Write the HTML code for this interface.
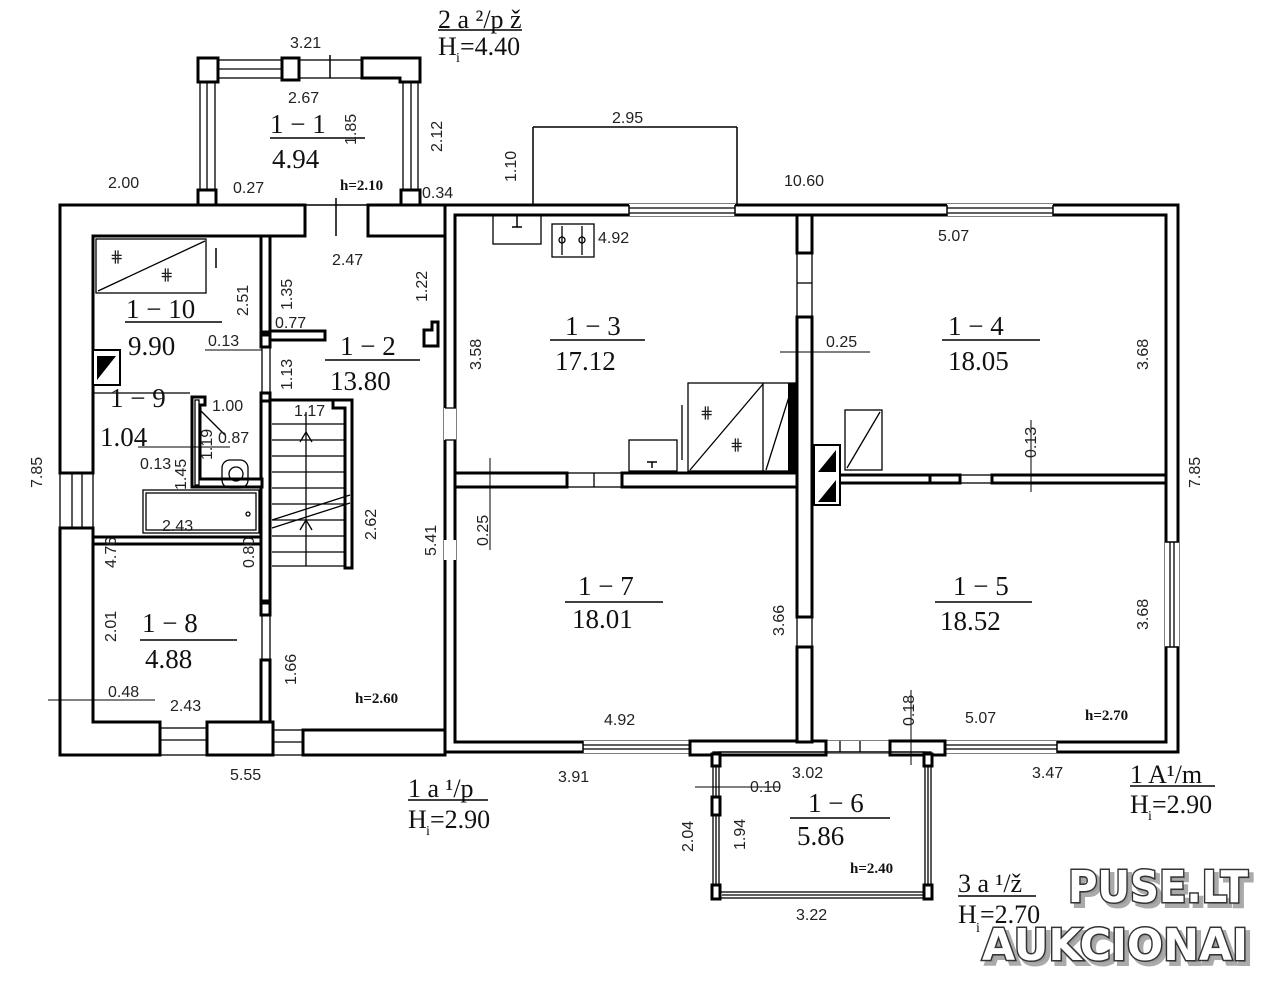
<!DOCTYPE html>
<html><head><meta charset="utf-8"><style>
html,body{margin:0;padding:0;background:#fff;}
svg{display:block}
.d{font-family:"Liberation Sans",sans-serif;font-size:16px;fill:#222}
.r{font-family:"Liberation Serif",serif;font-size:27px;fill:#111}
.h{font-family:"Liberation Serif",serif;font-size:15px;font-weight:bold;fill:#111}
.big{font-family:"Liberation Serif",serif;font-size:26px;fill:#111}
.w{fill:#fff;stroke:#000;stroke-width:3}
.t{stroke:#000;stroke-width:1.3;fill:none}
.ln{stroke:#000;stroke-width:1.5}
.wm{font-family:"DejaVu Sans",sans-serif;font-weight:bold;font-size:44px;fill:#fff;stroke:#333;stroke-width:3;paint-order:stroke}
.sh{font-family:"DejaVu Sans",sans-serif;font-weight:bold;font-size:44px;fill:#999;stroke:#aaa;stroke-width:4}
</style></head><body>
<svg width="1280" height="988" viewBox="0 0 1280 988" xmlns="http://www.w3.org/2000/svg">
<rect width="1280" height="988" fill="#fff"/>

<!-- Top porch -->
<rect class="t" x="200" y="60" width="218" height="145"/>
<rect class="t" x="215" y="78" width="188" height="127"/>
<line class="t" x1="207" y1="80" x2="207" y2="192"/>
<line class="t" x1="411" y1="80" x2="411" y2="192"/>
<line class="t" x1="218" y1="69" x2="282" y2="69"/>
<rect class="w" x="198" y="58" width="20" height="24"/>
<rect class="w" x="282" y="58" width="17" height="22"/>
<path class="w" d="M362 58 H420 V82 H400 V78 H362 Z"/>
<rect class="w" x="198" y="190" width="18" height="16"/>
<rect class="w" x="401" y="190" width="19" height="16"/>
<line class="ln" x1="330" y1="55" x2="330" y2="78"/>

<!-- Left wing -->
<path class="w" d="M60 205 H305 V236 H262 V236 H93 V473 H60 Z"/>
<rect class="w" x="368" y="205" width="77" height="31"/>
<line class="ln" x1="336" y1="198" x2="336" y2="236"/>
<rect class="t" x="60" y="473" width="33" height="55"/>
<line class="t" x1="72" y1="473" x2="72" y2="528"/>
<line class="t" x1="82" y1="473" x2="82" y2="528"/>
<path class="w" d="M60 528 H93 V722 H160 V755 H60 Z"/>
<rect class="w" x="207" y="722" width="66" height="33"/>
<rect class="w" x="303" y="730" width="142" height="25"/>
<rect class="t" x="160" y="728" width="47" height="27"/>
<line class="t" x1="160" y1="740" x2="207" y2="740"/>
<rect class="t" x="273" y="730" width="30" height="25"/>
<line class="t" x1="273" y1="742" x2="303" y2="742"/>
<rect class="w" x="261" y="236" width="9" height="96"/>
<rect class="w" x="261" y="335" width="9" height="12"/>
<rect class="w" x="270" y="331" width="55" height="9"/>
<rect class="w" x="261" y="393" width="9" height="8"/>
<rect class="t" x="262" y="347" width="8" height="46"/>
<rect class="w" x="261" y="401" width="9" height="200"/>
<rect class="w" x="261" y="603" width="9" height="12"/>
<rect class="t" x="262" y="615" width="8" height="55"/>
<rect class="w" x="261" y="660" width="9" height="62"/>
<rect class="w" x="93" y="537" width="168" height="7"/>
<line class="t" x1="93" y1="393" x2="190" y2="393"/>
<path class="w" d="M192 397 H205 V405 H200 V479 H262 V487 H192 Z"/>
<rect class="t" x="195" y="400" width="4" height="85"/>
<line class="t" x1="200" y1="410" x2="225" y2="435"/>
<rect class="t" x="222" y="460" width="26" height="28" rx="8"/>
<circle class="t" cx="236" cy="474" r="7"/>
<rect class="t" x="143" y="490" width="116" height="43"/>
<rect class="t" x="146" y="493" width="110" height="37"/>
<circle class="t" cx="248" cy="514" r="2"/>
<rect class="t" x="96" y="239" width="110" height="54"/>
<line class="t" x1="98" y1="291" x2="205" y2="241"/>
<text x="110" y="262" class="d" font-size="18">⋕</text>
<text x="160" y="280" class="d" font-size="18">⋕</text>
<line class="ln" x1="216" y1="248" x2="216" y2="268"/>
<rect x="93" y="350" width="27" height="35" fill="#fff" stroke="#000" stroke-width="2"/>
<path d="M97 380 L97 356 L116 356 Z" fill="#000"/>
<path class="w" d="M270 400 H352 V568 H345 V408 H333 V400 Z" />
<g class="t">
<line x1="272" y1="424" x2="345" y2="424"/><line x1="272" y1="440" x2="345" y2="440"/>
<line x1="272" y1="456" x2="345" y2="456"/><line x1="272" y1="472" x2="345" y2="472"/>
<line x1="272" y1="488" x2="345" y2="488"/><line x1="272" y1="504" x2="345" y2="504"/>
<line x1="272" y1="520" x2="345" y2="520"/><line x1="272" y1="536" x2="345" y2="536"/>
<line x1="272" y1="552" x2="345" y2="552"/><line x1="272" y1="566" x2="345" y2="566"/>
<line x1="306" y1="412" x2="306" y2="566"/>
<line x1="272" y1="520" x2="350" y2="495"/><line x1="272" y1="528" x2="350" y2="503"/>
<path d="M300 442 L306 432 L312 442"/><path d="M300 530 L306 520 L312 530"/>
</g>
<path class="w" d="M424 330 H432 V322 H438 V346 H424 Z"/>

<!-- Main building -->
<path class="w" fill-rule="evenodd" d="M445 205 H1178 V752 H445 Z M455 215 V742 H1166 V215 Z"/>
<rect fill="#fff" x="629" y="204" width="106" height="12"/><line class="t" x1="629" y1="208" x2="735" y2="208"/><line class="t" x1="629" y1="213" x2="735" y2="213"/>
<rect fill="#fff" x="947" y="204" width="106" height="12"/><line class="t" x1="947" y1="208" x2="1053" y2="208"/><line class="t" x1="947" y1="213" x2="1053" y2="213"/>
<line class="ln" x1="629" y1="205" x2="629" y2="216"/><line class="ln" x1="735" y1="205" x2="735" y2="216"/>
<line class="ln" x1="947" y1="205" x2="947" y2="216"/><line class="ln" x1="1053" y1="205" x2="1053" y2="216"/>
<rect fill="#fff" x="583" y="741" width="107" height="12"/><line class="t" x1="583" y1="745" x2="690" y2="745"/><line class="t" x1="583" y1="749" x2="690" y2="749"/>
<rect fill="#fff" x="945" y="741" width="112" height="12"/><line class="t" x1="945" y1="745" x2="1057" y2="745"/><line class="t" x1="945" y1="749" x2="1057" y2="749"/>
<rect fill="#fff" x="826" y="741" width="64" height="12"/><line class="t" x1="840" y1="741" x2="840" y2="752"/><line class="t" x1="860" y1="741" x2="860" y2="752"/>
<rect class="w" x="690" y="741" width="136" height="14"/>
<rect class="w" x="890" y="741" width="55" height="14"/>
<line class="ln" x1="583" y1="741" x2="583" y2="753"/><line class="ln" x1="1057" y1="741" x2="1057" y2="753"/>
<rect fill="#fff" x="1165" y="542" width="14" height="105"/><line class="t" x1="1170" y1="542" x2="1170" y2="647"/><line class="t" x1="1174" y1="542" x2="1174" y2="647"/>
<line class="ln" x1="1165" y1="542" x2="1179" y2="542"/><line class="ln" x1="1165" y1="647" x2="1179" y2="647"/>
<rect fill="#fff" x="444" y="408" width="12" height="32"/><line class="t" x1="445" y1="408" x2="456" y2="408"/><line class="t" x1="445" y1="440" x2="456" y2="440"/>
<rect fill="#fff" x="444" y="540" width="12" height="20"/>
<rect class="w" x="797" y="215" width="15" height="38"/>
<rect class="t" x="797" y="253" width="15" height="64"/>
<line class="t" x1="797" y1="283" x2="812" y2="283"/>
<rect class="w" x="797" y="317" width="15" height="300"/>
<rect class="t" x="797" y="617" width="15" height="30"/>
<rect class="w" x="797" y="647" width="15" height="95"/>
<rect class="w" x="455" y="473" width="112" height="14"/>
<rect class="t" x="567" y="473" width="55" height="14"/>
<line class="t" x1="594" y1="473" x2="594" y2="487"/>
<rect class="w" x="622" y="473" width="175" height="14"/>
<rect class="w" x="812" y="475" width="118" height="8"/>
<rect class="w" x="930" y="475" width="30" height="8"/>
<rect class="t" x="960" y="475" width="32" height="8"/>
<rect class="w" x="992" y="475" width="174" height="8"/>
<rect x="814" y="445" width="26" height="60" fill="#fff" stroke="#000" stroke-width="2"/>
<path d="M818 472 L836 450 L836 472 Z" fill="#000"/>
<path d="M818 502 L836 480 L836 502 Z" fill="#000"/>
<rect class="t" x="688" y="383" width="107" height="88"/>
<line class="t" x1="763" y1="383" x2="763" y2="471"/>
<line class="t" x1="690" y1="470" x2="763" y2="384"/>
<line class="t" x1="766" y1="470" x2="793" y2="384"/>
<rect x="788" y="383" width="7" height="88" fill="#000"/>
<text x="700" y="418" class="d" font-size="22">⋕</text>
<text x="730" y="450" class="d" font-size="22">⋕</text>
<line class="t" x1="682" y1="405" x2="682" y2="460"/>
<rect class="t" x="629" y="440" width="48" height="31"/>
<line class="ln" x1="652" y1="462" x2="652" y2="468"/><line class="ln" x1="647" y1="462" x2="657" y2="462"/>
<rect class="t" x="845" y="410" width="37" height="60"/>
<line class="t" x1="847" y1="468" x2="880" y2="412"/>
<rect class="t" x="493" y="215" width="48" height="29"/>
<line class="ln" x1="517" y1="215" x2="517" y2="227"/><line class="ln" x1="512" y1="227" x2="522" y2="227"/>
<rect class="t" x="552" y="224" width="42" height="33"/>
<line class="t" x1="562" y1="226" x2="562" y2="255"/><line class="t" x1="582" y1="226" x2="582" y2="255"/>
<circle class="t" cx="562" cy="240" r="3"/><circle class="t" cx="582" cy="240" r="3"/>

<!-- bottom porch -->
<rect class="t" x="713" y="752" width="218" height="146"/>
<rect class="t" x="719" y="752" width="206" height="140"/>
<line class="t" x1="716" y1="760" x2="716" y2="890"/>
<line class="t" x1="928" y1="760" x2="928" y2="890"/>
<line class="t" x1="722" y1="895" x2="925" y2="895"/>
<rect class="w" x="712" y="754" width="8" height="12"/>
<rect class="w" x="924" y="754" width="8" height="12"/>
<rect class="w" x="712" y="797" width="8" height="18"/>
<rect class="w" x="712" y="885" width="8" height="14"/>
<rect class="w" x="924" y="885" width="8" height="14"/>

<g class="ln">
<line x1="533" y1="127" x2="737" y2="127"/>
<line x1="533" y1="127" x2="533" y2="205"/>
<line x1="737" y1="127" x2="737" y2="205"/>
<line x1="200" y1="205" x2="300" y2="205" stroke-width="1"/>
<line x1="205" y1="350" x2="262" y2="350" stroke-width="1"/>
<line x1="138" y1="447" x2="230" y2="447" stroke-width="1"/>
<line x1="48" y1="700" x2="155" y2="700" stroke-width="1"/>
<line x1="780" y1="352" x2="870" y2="352" stroke-width="1"/>
<line x1="490" y1="458" x2="490" y2="550" stroke-width="1"/>
<line x1="1031" y1="420" x2="1031" y2="492" stroke-width="1"/>
<line x1="911" y1="690" x2="911" y2="765" stroke-width="1"/>
<line x1="695" y1="787" x2="780" y2="787" stroke-width="1"/>
</g>

<g class="r">
<text x="270" y="133">1 − 1</text><line class="ln" x1="270" y1="138" x2="365" y2="138"/><text x="272" y="168">4.94</text>
<text x="126" y="318">1 − 10</text><line class="ln" x1="125" y1="322" x2="222" y2="322"/><text x="128" y="355">9.90</text>
<text x="110" y="407">1 − 9</text><text x="100" y="446">1.04</text>
<text x="340" y="355">1 − 2</text><line class="ln" x1="325" y1="360" x2="420" y2="360"/><text x="330" y="390">13.80</text>
<text x="565" y="335">1 − 3</text><line class="ln" x1="550" y1="340" x2="645" y2="340"/><text x="555" y="370">17.12</text>
<text x="948" y="335">1 − 4</text><line class="ln" x1="942" y1="340" x2="1040" y2="340"/><text x="948" y="370">18.05</text>
<text x="142" y="632">1 − 8</text><line class="ln" x1="140" y1="640" x2="237" y2="640"/><text x="145" y="668">4.88</text>
<text x="578" y="595">1 − 7</text><line class="ln" x1="565" y1="602" x2="663" y2="602"/><text x="572" y="628">18.01</text>
<text x="953" y="595">1 − 5</text><line class="ln" x1="935" y1="602" x2="1032" y2="602"/><text x="940" y="630">18.52</text>
<text x="808" y="812">1 − 6</text><line class="ln" x1="790" y1="818" x2="890" y2="818"/><text x="797" y="845">5.86</text>
</g>

<g class="d">
<text x="290" y="48">3.21</text>
<text x="288" y="103">2.67</text>
<text x="108" y="188">2.00</text>
<text x="233" y="193">0.27</text>
<text x="422" y="198">0.34</text>
<text x="612" y="123">2.95</text>
<text x="784" y="186">10.60</text>
<text x="332" y="265">2.47</text>
<text x="598" y="243">4.92</text>
<text x="938" y="241">5.07</text>
<text x="275" y="328">0.77</text>
<text x="208" y="346">0.13</text>
<text x="826" y="347">0.25</text>
<text x="212" y="411">1.00</text>
<text x="294" y="416">1.17</text>
<text x="218" y="443">0.87</text>
<text x="140" y="469">0.13</text>
<text x="162" y="531">2.43</text>
<text x="108" y="697">0.48</text>
<text x="170" y="711">2.43</text>
<text x="604" y="725">4.92</text>
<text x="965" y="723">5.07</text>
<text x="230" y="780">5.55</text>
<text x="558" y="782">3.91</text>
<text x="792" y="778">3.02</text>
<text x="750" y="792">0.10</text>
<text x="1032" y="778">3.47</text>
<text x="796" y="920">3.22</text>
</g>
<g class="d">
<text transform="translate(356,145) rotate(-90)">1.85</text>
<text transform="translate(442,152) rotate(-90)">2.12</text>
<text transform="translate(516,182) rotate(-90)">1.10</text>
<text transform="translate(248,316) rotate(-90)">2.51</text>
<text transform="translate(292,310) rotate(-90)">1.35</text>
<text transform="translate(427,302) rotate(-90)">1.22</text>
<text transform="translate(292,390) rotate(-90)">1.13</text>
<text transform="translate(481,370) rotate(-90)">3.58</text>
<text transform="translate(1148,370) rotate(-90)">3.68</text>
<text transform="translate(1036,458) rotate(-90)">0.13</text>
<text transform="translate(212,460) rotate(-90)">1.19</text>
<text transform="translate(186,490) rotate(-90)">1.45</text>
<text transform="translate(254,568) rotate(-90)">0.80</text>
<text transform="translate(116,568) rotate(-90)">4.76</text>
<text transform="translate(42,488) rotate(-90)">7.85</text>
<text transform="translate(376,540) rotate(-90)">2.62</text>
<text transform="translate(436,556) rotate(-90)">5.41</text>
<text transform="translate(488,546) rotate(-90)">0.25</text>
<text transform="translate(784,636) rotate(-90)">3.66</text>
<text transform="translate(1200,488) rotate(-90)">7.85</text>
<text transform="translate(1148,630) rotate(-90)">3.68</text>
<text transform="translate(116,642) rotate(-90)">2.01</text>
<text transform="translate(296,685) rotate(-90)">1.66</text>
<text transform="translate(914,726) rotate(-90)">0.18</text>
<text transform="translate(693,852) rotate(-90)">2.04</text>
<text transform="translate(745,850) rotate(-90)">1.94</text>
</g>
<g class="h">
<text x="340" y="190">h=2.10</text>
<text x="355" y="703">h=2.60</text>
<text x="1085" y="720">h=2.70</text>
<text x="850" y="873">h=2.40</text>
</g>
<g class="big">
<text x="438" y="28">2 a ²/p ž</text><line class="ln" x1="438" y1="30" x2="522" y2="30"/>
<text x="438" y="55">H</text><text x="456" y="62" font-size="14">i</text><text x="460" y="55">=4.40</text>
<text x="408" y="797">1 a ¹/p</text><line class="ln" x1="408" y1="800" x2="488" y2="800"/>
<text x="408" y="828">H</text><text x="426" y="835" font-size="14">i</text><text x="430" y="828">=2.90</text>
<text x="1130" y="783">1 A¹/m</text><line class="ln" x1="1130" y1="786" x2="1215" y2="786"/>
<text x="1130" y="813">H</text><text x="1148" y="820" font-size="14">i</text><text x="1152" y="813">=2.90</text>
<text x="958" y="892">3 a ¹/ž</text><line class="ln" x1="958" y1="896" x2="1036" y2="896"/>
<text x="958" y="923">H</text><text x="976" y="932" font-size="14">i</text><text x="980" y="923">=2.70</text>
</g>
<text class="sh" x="1072" y="906" textLength="180" lengthAdjust="spacingAndGlyphs">PUSE.LT</text>
<text class="sh" x="986" y="964" textLength="266" lengthAdjust="spacingAndGlyphs">AUKCIONAI</text>
<text class="wm" x="1068" y="902" textLength="180" lengthAdjust="spacingAndGlyphs">PUSE.LT</text>
<text class="wm" x="982" y="960" textLength="266" lengthAdjust="spacingAndGlyphs">AUKCIONAI</text>
</svg>
</body></html>
